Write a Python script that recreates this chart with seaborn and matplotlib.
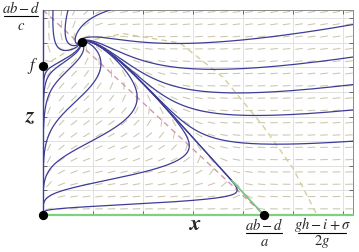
import numpy as np
import pandas as pd
import matplotlib
matplotlib.use("Agg")
import matplotlib.pyplot as plt
import seaborn as sns
from matplotlib.collections import LineCollection
from matplotlib.lines import Line2D

# values (data units: 1 x-unit = one tick, 1 z-unit = one tick)
x_max, z_max = 6.2, 8.33
K = 4.42            # (ab-d)/a, x-intercept of the x-nullcline
Zc = 8.33           # (ab-d)/c, z-intercept of the x-nullcline
f_eq = 6.06         # f, equilibrium on the z-axis
x_root = 5.48       # (gh-i+sigma)/2g, x-intercept of the z-nullcline
olive_x = [0.0, 0.8, 1.6, 2.74, 3.6, 4.4, 5.0, 5.48]
olive_z = [6.06, 7.03, 7.37, 6.99, 5.6, 3.62, 1.9, 0.0]
rx, rz = 1.0, 0.035

# starting points of the drawn trajectories
start_x = [6.2, 6.2, 6.2, 6.2, 6.2, 0.2, 0.5, 1.34,
           0.01, 0.01, 0.01, 0.01, 0.01, 0.01, 0.01]
start_z = [7.74, 6.42, 5.3, 4.27, 3.0, 8.33, 8.33, 8.33,
           0.12, 0.45, 1.1, 2.1, 3.5, 4.6, 5.3]

eq_x = [0.0, K, 0.0, 0.78]
eq_z = [0.0, 0.0, f_eq, 7.03]

coef = np.polyfit(olive_x, olive_z, 2)


def field(x, z):
    dx = rx * x * (1 - x / K - z / Zc)
    dz = rz * z * (np.polyval(coef, x) - z)
    return dx, dz


def integrate(x0, z0, dt=0.01, steps=30000):
    x = np.array(x0, float)
    z = np.array(z0, float)
    xs, zs = [x.copy()], [z.copy()]
    for _ in range(steps):
        k1 = field(x, z)
        k2 = field(x + dt / 2 * k1[0], z + dt / 2 * k1[1])
        k3 = field(x + dt / 2 * k2[0], z + dt / 2 * k2[1])
        k4 = field(x + dt * k3[0], z + dt * k3[1])
        x = x + dt / 6 * (k1[0] + 2 * k2[0] + 2 * k3[0] + k4[0])
        z = z + dt / 6 * (k1[1] + 2 * k2[1] + 2 * k3[1] + k4[1])
        xs.append(x.copy())
        zs.append(z.copy())
    return np.array(xs), np.array(zs)


xs, zs = integrate(start_x, start_z)
rows = []
for i in range(len(start_x)):
    keep = (xs[:, i] <= x_max + 0.05) & (zs[:, i] <= z_max + 0.05)
    rows.append(pd.DataFrame({"x": xs[keep, i][::5], "z": zs[keep, i][::5], "traj": i}))
traj = pd.concat(rows)

# separatrix out of the saddle at (K, 0)
sx, sz = integrate([K - 0.001], [0.002])
sep = pd.DataFrame({"x": sx[::5, 0], "z": sz[::5, 0]})

sns.set_style("white")
plt.rcParams["mathtext.fontset"] = "stix"
fig = plt.figure(figsize=(3.59, 2.52), dpi=100)
ax = fig.add_axes([43 / 359, 37 / 252, 310 / 359, 205 / 252])
ax.set_xlim(0, x_max)
ax.set_ylim(0, z_max)

for v in range(1, 7):
    ax.axvline(v, color="#dcdcdc", lw=0.6, zorder=0)
for v in range(1, 9):
    ax.axhline(v, color="#dcdcdc", lw=0.6, zorder=0)

# direction field
gx, gz = np.meshgrid(np.arange(0.12, x_max, 0.25), np.arange(0.25, z_max, 0.5))
u, w = field(gx, gz)
px, pz = u * 50, w * 24.6
n = np.hypot(px, pz) + 1e-12
hx, hz = 3.8 * px / n / 50, 3.8 * pz / n / 24.6
segs = np.stack([np.stack([gx - hx, gz - hz], -1), np.stack([gx + hx, gz + hz], -1)], -2).reshape(-1, 2, 2)
ax.add_collection(LineCollection(segs, colors="#cbc6b0", lw=0.75, zorder=1))

# nullclines
ax.plot([0, K], [Zc, 0], ls=(0, (4, 3)), color="#d09ca4", lw=1.0, zorder=2)
ax.plot(olive_x, olive_z, ls=(0, (4, 3)), color="#d6cf9c", lw=1.0, zorder=2)

sns.lineplot(data=traj, x="x", y="z", units="traj", estimator=None, sort=False,
             color="#3d3d96", lw=0.9, ax=ax, zorder=3)
sns.lineplot(data=sep, x="x", y="z", estimator=None, sort=False,
             color="#3d3d96", lw=0.9, ax=ax, zorder=3)
green = sep[sep["z"] < 1.4]
sns.lineplot(data=green, x="x", y="z", estimator=None, sort=False,
             color="#7fd07f", lw=1.1, ax=ax, zorder=4)
ax.plot([0, x_max], [0, 0], color="#7fd07f", lw=1.6, zorder=4, clip_on=False)
ax.plot([0, 0], [0, z_max], color="#3d3d96", lw=1.0, zorder=4, clip_on=False)

ax.scatter(eq_x, eq_z, s=32, color="black", zorder=6, clip_on=False)

ax.set_xticks(range(1, 7))
ax.set_yticks(range(1, 9))
ax.set_xticklabels([])
ax.set_yticklabels([])
ax.tick_params(direction="in", length=3, width=0.6, color="#555555",
               top=True, right=True, bottom=True, left=True)
for s in ax.spines.values():
    s.set_color("#888888")
    s.set_linewidth(0.7)
ax.set_xlabel("")
ax.set_ylabel("")


def frac(cx, cy, num, den, half):
    # cx, cy: centre in pixels (from top-left); half: half width of the bar
    fig.text(cx / 359, 1 - (cy - 8) / 252, num, ha="center", va="center", fontsize=10.5)
    fig.text(cx / 359, 1 - (cy + 9) / 252, den, ha="center", va="center", fontsize=10.5)
    fig.add_artist(Line2D([(cx - half) / 359, (cx + half) / 359],
                          [1 - cy / 252, 1 - cy / 252], color="black", lw=0.8))


frac(21, 16, r"$ab-d$", r"$c$", 17)
frac(264, 233, r"$ab-d$", r"$a$", 18)
frac(322, 233, r"$gh-i+\sigma$", r"$2g$", 24)
fig.text(33 / 359, 1 - 66 / 252, r"$f$", ha="center", va="center", fontsize=12)
fig.text(31 / 359, 1 - 116 / 252, r"$\boldsymbol{z}$", ha="center", va="center", fontsize=16)
fig.text(195 / 359, 1 - 224 / 252, r"$\boldsymbol{x}$", ha="center", va="center", fontsize=16)

fig.savefig("out.png", dpi=100)
